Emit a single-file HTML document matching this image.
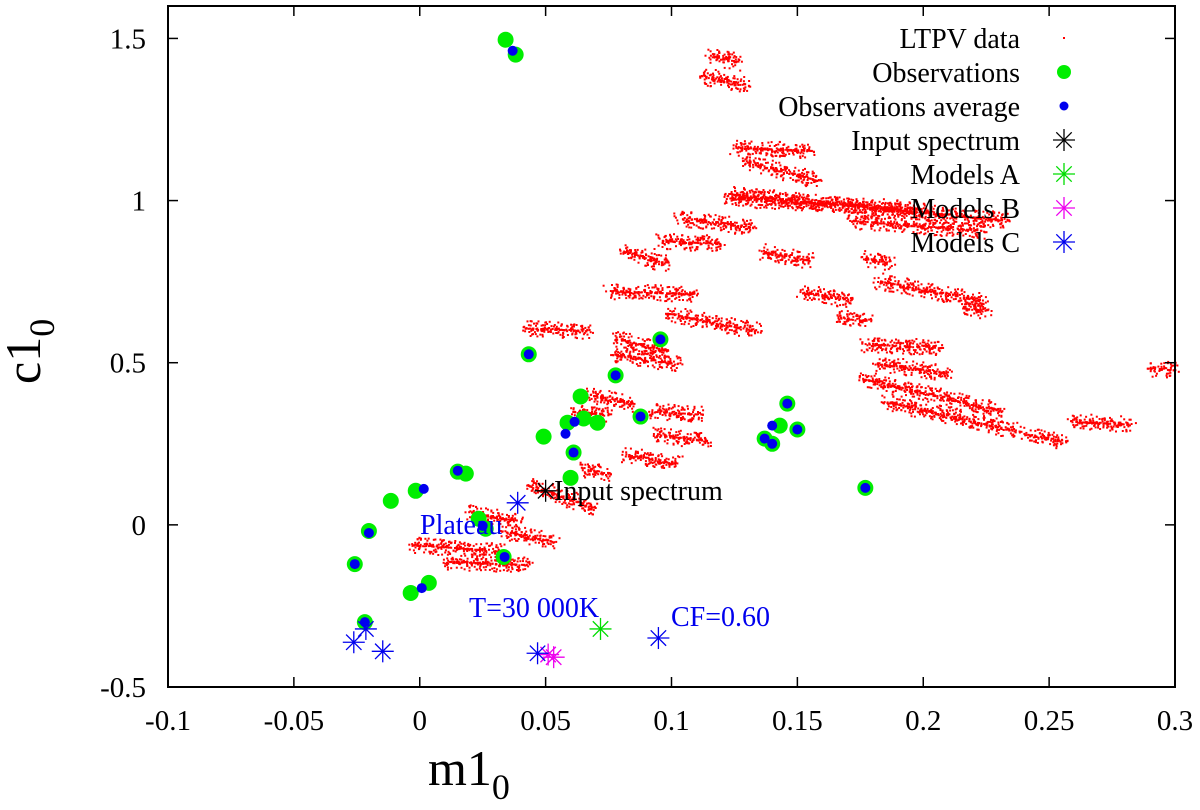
<!DOCTYPE html>
<html><head><meta charset="utf-8"><style>
html,body{margin:0;padding:0;background:#fff;}
svg, svg text, svg tspan{font-family:"Liberation Serif","Times New Roman",Times,"DejaVu Serif",serif !important;}
</style></head><body>
<svg id="chart" width="1200" height="805" viewBox="0 0 1200 805">
<g id="ltpv"></g>
<g id="marks"></g>
<g id="axes"></g>
<g id="legend"></g>
</svg>
<script>
// ---- data ----
const xTicks = [-0.1,-0.05,0,0.05,0.1,0.15,0.2,0.25,0.3];
const xTickLabels = ["-0.1","-0.05","0","0.05","0.1","0.15","0.2","0.25","0.3"];
const yTicks = [-0.5,0,0.5,1,1.5];
const yTickLabels = ["-0.5","0","0.5","1","1.5"];
// LTPV streaks: [x1,y1,x2,y2]
const ltpvStreaks = [
[.1147,1.450,.1274,1.428],[.1115,1.388,.1294,1.357],[.1246,1.165,.1552,1.156],[.1286,1.125,.1579,1.063],
[.1222,1.023,.2333,.940],[.1222,1.010,.2000,.975],[.1024,.949,.1325,.918],[.0944,.878,.1194,.869],[.171,.940,.2238,.909],
[.1762,.825,.1869,.807],[.0798,.847,.0984,.807],[.0746,.723,.1087,.714],[.0984,.652,.1341,.600],
[.1659,.640,.1778,.631],[.2159,.671,.2254,.662],[.1762,.560,.2067,.547],[.0770,.578,.0984,.538],
[.0758,.529,.1024,.498],[.175,.454,.2306,.352],[.1841,.383,.2373,.291],[.2413,.281,.2556,.260],
[.2583,.321,.2821,.312],[.2901,.485,.3,.479],[.0667,.405,.0849,.374],[.0611,.352,.0746,.343],
[.0917,.352,.1115,.343],[.081,.219,.1024,.189],[.0929,.281,.1143,.260],[.0639,.176,.0746,.158],
[.0429,.127,.069,.053],[.0333,-.019,.0532,-.049],[.019,.043,.0389,.012],[.0095,-.111,.0429,-.121],
[-.0036,-.059,.0321,-.080],[.0413,.609,.0667,.600],[.1512,.723,.171,.692],[.1353,.847,.1552,.816],
[.1817,.754,.2238,.692],[.1810,.500,.2100,.470]
];
const obsX = [.0341,.0381,.0433,.0956,.0778,.0639,.0877,.0587,.0651,.0706,.0492,.0611,.0599,.0151,.0183,-.0016,-.0115,.0234,.0262,.0333,-.0202,-.0258,-.0218,-.0036,.0036,.150,.137,.140,.143,.146,.177];
const obsY = [1.496,1.450,.526,.572,.461,.396,.334,.315,.328,.315,.272,.223,.145,.164,.158,.105,.074,.019,-.012,-.099,-.019,-.121,-.300,-.210,-.179,.294,.266,.250,.306,.374,.114];
const avgX = [.0369,.0433,.0956,.0778,.0877,.0615,.0579,.0611,.0151,.0016,.025,.0337,-.0202,-.0258,-.0218,.0008,.146,.140,.137,.140,.150,.177];
const avgY = [1.462,.526,.572,.461,.334,.318,.281,.223,.167,.111,-.003,-.099,-.025,-.121,-.300,-.195,.374,.306,.266,.250,.294,.114];
const inputX = [.050], inputY = [.105];
const modelAX = [.0718], modelAY = [-.321];
const modelBX = [.0532,.0510], modelBY = [-.408,-.400];
const modelCX = [.0389,-.0262,-.0214,-.0147,.0468,.0948], modelCY = [.068,-.362,-.321,-.390,-.396,-.349];
const legendLabels = ["LTPV data","Observations","Observations average","Input spectrum","Models A","Models B","Models C"];

// ---- scales ----
const L=168,R=1175,T=6,B=687, XMIN=-0.1,XMAX=0.3,YMIN=-0.5,YMAX=1.6;
const sx=v=>L+(v-XMIN)/(XMAX-XMIN)*(R-L);
const sy=v=>B-(v-YMIN)/(YMAX-YMIN)*(B-T);
const NS="http://www.w3.org/2000/svg";
const FF="'Liberation Serif','Times New Roman',Times,serif";
function mk(tag,attrs,parent){const e=document.createElementNS(NS,tag);for(const k in attrs)e.setAttribute(k,attrs[k]);parent.appendChild(e);return e;}

// LTPV dots
const gL=document.getElementById('ltpv');
ltpvStreaks.forEach((s,i)=>{
  const x1=sx(s[0]),y1=sy(s[1]),x2=sx(s[2]),y2=sy(s[3]);
  const len=Math.hypot(x2-x1,y2-y1);
  const n=Math.max(10,Math.round(len*2.6));
  const g=mk('g',{},gL);
  
  
  for(let k=0;k<n;k++){
    const t=k/(n-1);
    const j1=Math.sin((k+1)*12.9898+i*78.233)*43758.5453; const f1=j1-Math.floor(j1);
    const j2=Math.sin((k+1)*39.346+i*11.135)*24634.634; const f2=j2-Math.floor(j2);
    const sp=(f2-0.5);
    mk('rect',{x:(x1+(x2-x1)*t+(f1-0.5)*10).toFixed(1),y:(y1+(y2-y1)*t+sp*Math.abs(sp)*2*16).toFixed(1),width:2,height:2,fill:'#ff0000'},g);
  }
});

// markers
const gM=document.getElementById('marks');
obsX.forEach((v,i)=>{const c=mk('circle',{cx:sx(v),cy:sy(obsY[i]),r:8,fill:'#00ee00'},gM);

});
avgX.forEach((v,i)=>{const c=mk('circle',{cx:sx(v),cy:sy(avgY[i]),r:5,fill:'#0000ee'},gM);

});
function star(x,y,col,parent,s){s=s||11;const g=mk('g',{stroke:col,'stroke-width':1.3},parent);
mk('line',{x1:x-s,y1:y,x2:x+s,y2:y},g);mk('line',{x1:x,y1:y-s,x2:x,y2:y+s},g);
mk('line',{x1:x-s*.7,y1:y-s*.7,x2:x+s*.7,y2:y+s*.7},g);mk('line',{x1:x-s*.7,y1:y+s*.7,x2:x+s*.7,y2:y-s*.7},g);return g;}
inputX.forEach((v,i)=>{const g=star(sx(v),sy(inputY[i]),'#000',gM);

});
modelAX.forEach((v,i)=>{const g=star(sx(v),sy(modelAY[i]),'#00dd00',gM);

});
modelBX.forEach((v,i)=>{const g=star(sx(v),sy(modelBY[i]),'#ee00ee',gM);

});
modelCX.forEach((v,i)=>{const g=star(sx(v),sy(modelCY[i]),'#0000ee',gM);

});

// annotations
function txt(x,y,s,attrs,parent,name){const t=mk('text',attrs,parent);t.setAttribute('x',x);t.setAttribute('y',y);t.setAttribute('style','font-family:'+FF);t.textContent=s;

return t;}
txt(554,500,"Input spectrum",{'font-size':28,fill:'#000'},gM,'input-spectrum-label');
txt(420,534,"Plateau",{'font-size':28,fill:'#0000ee'},gM,'plateau-label');
txt(469,617,"T=30 000K",{'font-size':28,fill:'#0000ee'},gM,'temperature-label');
txt(671,626,"CF=0.60",{'font-size':28,fill:'#0000ee'},gM,'cf-label');

// axes
const gA=document.getElementById('axes');
const frame=mk('rect',{x:L,y:T,width:R-L,height:B-T,fill:'none',stroke:'#000','stroke-width':2},gA);


xTicks.forEach((v,i)=>{const x=sx(v);
mk('line',{x1:x,y1:B,x2:x,y2:B-10,stroke:'#000','stroke-width':1.5},gA);
mk('line',{x1:x,y1:T,x2:x,y2:T+10,stroke:'#000','stroke-width':1.5},gA);
txt(x,730,xTickLabels[i],{'font-size':29,'text-anchor':'middle'},gA,'x-tick-label');});
yTicks.forEach((v,i)=>{const y=sy(v);
mk('line',{x1:L,y1:y,x2:L+10,y2:y,stroke:'#000','stroke-width':1.5},gA);
mk('line',{x1:R,y1:y,x2:R-10,y2:y,stroke:'#000','stroke-width':1.5},gA);
txt(146,y+10,yTickLabels[i],{'font-size':29,'text-anchor':'end'},gA,'y-tick-label');});
const xt=mk('text',{x:428,y:785,'font-size':50,style:'font-family:'+FF},gA);
xt.innerHTML='m1<tspan font-size="36" dy="14">0</tspan>';


const yt=mk('text',{x:0,y:0,'font-size':50,style:'font-family:'+FF,transform:'translate(40,384) rotate(-90)'},gA);
yt.innerHTML='c1<tspan font-size="36" dy="14">0</tspan>';



// legend
const gG=document.getElementById('legend');
legendLabels.forEach((s,i)=>{const y=38+i*34;
const g=mk('g',{},gG);


const t=mk('text',{x:1020,y:y+10,'font-size':28,'text-anchor':'end',style:'font-family:'+FF},g);t.textContent=s;
const xs=1064;
if(i===0)mk('rect',{x:xs-1,y:y-1,width:2,height:2,fill:'#ff0000'},g);
if(i===1)mk('circle',{cx:xs,cy:y,r:7,fill:'#00ee00'},g);
if(i===2)mk('circle',{cx:xs,cy:y,r:4.5,fill:'#0000ee'},g);
if(i===3)star(xs,y,'#000',g);
if(i===4)star(xs,y,'#00dd00',g);
if(i===5)star(xs,y,'#ee00ee',g);
if(i===6)star(xs,y,'#0000ee',g);
});
</script>
</body></html>
